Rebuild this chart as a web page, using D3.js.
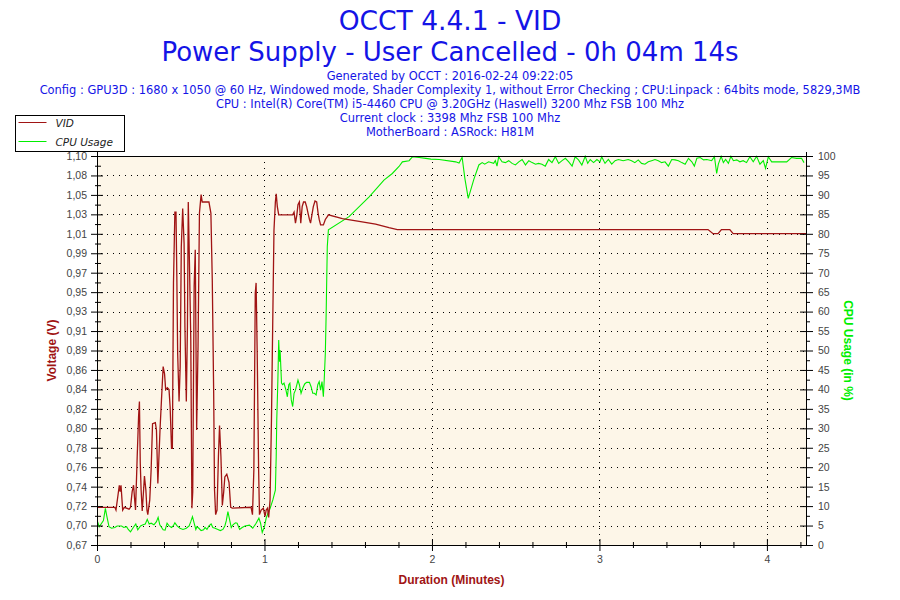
<!DOCTYPE html>
<html>
<head>
<meta charset="utf-8">
<script src="https://cdn.jsdelivr.net/npm/d3@7"></script>
<style>
  body { margin: 0; background: #fff; }
  svg { display: block; }
</style>
</head>
<body>
<svg class="main" width="900" height="600"></svg>
<script>
// title and info lines
const titleLines = ["OCCT 4.4.1 - VID", "Power Supply - User Cancelled - 0h 04m 14s"];
const infoLines = [
  "Generated by OCCT : 2016-02-24 09:22:05",
  "Config : GPU3D : 1680 x 1050 @ 60 Hz, Windowed mode, Shader Complexity 1, without Error Checking ; CPU:Linpack : 64bits mode, 5829,3MB",
  "CPU : Intel(R) Core(TM) i5-4460 CPU @ 3.20GHz (Haswell) 3200 Mhz FSB 100 Mhz",
  "Current clock : 3398 Mhz FSB 100 Mhz",
  "MotherBoard : ASRock: H81M"
];

// axis ticks
const voltTickLabels = ["0,67","0,70","0,72","0,74","0,76","0,78","0,80","0,82","0,84","0,86","0,89",
  "0,91","0,93","0,95","0,97","0,99","1,01","1,03","1,05","1,08","1,10"];
const voltMin = 0.679, voltMax = 1.102;
const cpuTickLabels = d3.range(0, 101, 5);
const minuteTicks = [0, 1, 2, 3, 4];
const durationMin = 254 / 60; // 4m14s

// VID series : time (s), voltage (V)
const vidTime = [0,6.4,6.8,7.6,8.0,8.3,8.6,9.2,9.8,11.5,12.0,12.6,13.1,13.5,13.8,14.4,14.9,15.2,15.5,15.8,
  16.2,16.7,17.0,17.5,17.9,18.2,18.9,19.4,19.9,20.9,21.3,21.8,22.1,22.6,23.1,23.7,24.2,24.6,25.2,25.8,
  26.2,26.7,27.0,27.4,27.9,28.3,28.6,28.9,29.4,29.8,30.2,30.7,31.2,31.5,32.0,32.4,32.7,33.1,33.6,34.0,
  34.3,34.8,35.2,35.7,36.2,36.7,37.3,37.7,40.1,40.8,41.3,41.8,42.1,42.5,43.0,43.5,43.9,44.4,44.9,45.4,
  45.8,46.5,47.3,47.9,48.5,55.2,55.7,56.2,56.7,57.0,57.4,57.9,58.2,58.8,59.6,60.2,60.6,61.1,61.5,62.0,
  62.5,63.0,63.4,63.9,64.2,64.6,65.1,70.1,70.6,71.1,71.6,72.0,72.5,73.0,73.5,74.0,74.6,75.1,75.6,76.1,
  76.5,77.0,77.5,78.1,78.7,79.2,79.6,80.1,81.1,81.8,82.5,82.9,87.9,93.9,99.8,104.6,107.6,218.9,220.7,
  222.5,223.7,226.7,227.9,254];
const vidValue = [0.720,0.720,0.717,0.735,0.744,0.737,0.744,0.717,0.720,0.718,0.720,0.737,0.744,0.728,0.717,
  0.775,0.819,0.835,0.768,0.739,0.716,0.739,0.754,0.739,0.717,0.712,0.728,0.761,0.811,0.812,0.804,0.746,
  0.768,0.806,0.837,0.873,0.865,0.848,0.850,0.848,0.829,0.784,0.784,0.964,1.041,1.041,0.971,0.887,0.835,
  0.873,1.003,1.045,1.007,0.916,0.835,0.916,1.052,0.989,0.902,0.719,0.737,0.960,1.000,0.804,0.895,1.040,
  1.060,1.052,1.052,1.040,0.967,0.844,0.739,0.712,0.717,0.775,0.809,0.775,0.722,0.737,0.753,0.756,0.747,
  0.720,0.719,0.720,0.712,0.761,0.953,0.964,0.887,0.761,0.712,0.717,0.719,0.710,0.717,0.719,0.709,0.728,
  0.815,0.931,1.021,1.052,1.061,1.047,1.038,1.038,1.041,1.029,1.038,1.049,1.052,1.029,1.047,1.052,1.052,
  1.047,1.040,1.033,1.029,1.038,1.047,1.053,1.052,1.040,1.033,1.027,1.027,1.033,1.036,1.038,1.034,1.031,
  1.028,1.024,1.022,1.022,1.0175,1.0175,1.022,1.022,1.0175,1.0175];

// CPU usage series : time (s), usage (%)
const cpuTime = [0.2,0.8,2.3,3.0,3.5,4.3,5.2,6.4,7.2,8.8,9.6,10.6,11.2,12.0,13.0,13.9,14.6,15.6,16.5,17.3,
  18.0,18.7,19.4,20.4,21.3,21.9,22.5,23.7,24.4,25.1,25.8,26.7,27.3,27.9,28.7,29.7,30.8,32.0,33.0,33.6,
  34.2,34.8,35.4,35.8,36.5,37.3,38.2,38.7,39.4,40.1,40.9,41.5,42.3,43.3,44.2,45.1,45.8,46.3,46.9,47.5,
  48.1,48.7,49.6,50.2,51.1,52.0,53.0,54.6,55.8,57.0,58.0,58.6,59.2,60.0,60.6,61.2,62.0,63.0,63.9,64.2,
  64.4,64.8,65.1,65.4,65.6,66.1,66.5,67.0,67.7,68.2,68.7,69.1,69.6,70.1,70.6,71.1,71.6,72.0,72.5,73.1,
  73.7,74.4,75.1,76.1,76.7,77.3,77.9,78.5,79.1,79.6,80.1,80.6,81.1,81.4,81.8,82.1,82.5,82.9,90.3,97.5,
  102.8,105.8,108.2,109.4,111.8,113.0,115.4,117.8,119.6,122.6,128.5,129.7,130.8,131.8,133.0,135.0,136.8,
  138.0,138.9,140.3,142.1,142.7,143.3,143.9,145.1,146.3,147.5,148.7,149.9,151.1,152.3,153.5,154.7,155.9,
  157.1,158.2,159.4,160.6,161.8,163.0,164.2,165.4,166.6,167.8,169.0,170.2,171.3,172.5,173.7,174.9,175.8,
  176.7,177.9,179.1,180.2,180.8,182.0,183.2,184.4,185.6,186.8,188.5,190.3,191.5,192.7,193.9,195.1,196.3,
  197.5,198.7,199.9,201.1,202.3,203.5,204.7,205.9,207.1,208.3,209.5,210.7,211.9,213.1,214.0,214.9,216.1,
  217.3,218.5,220.2,221.2,222.0,222.6,223.6,224.4,225.2,226.2,227.1,228.0,229.2,230.3,231.5,232.7,233.9,
  235.1,236.3,237.5,238.7,239.5,240.5,241.7,244.1,247.1,248.8,250.6,252.4,253.3];
const cpuValue = [6.0,4.7,6.3,9.4,7.5,4.7,4.3,4.5,4.9,4.9,4.5,4.7,4.0,3.4,4.5,5.4,3.9,4.9,5.2,5.4,
  6.6,5.4,5.6,5.2,6.0,7.1,5.2,3.9,3.8,5.6,4.9,4.5,4.9,5.7,4.9,4.3,4.0,4.3,4.9,6.0,
  7.3,5.6,4.0,4.7,4.3,3.7,3.9,4.5,4.0,4.9,5.4,4.5,4.3,4.0,3.7,4.0,4.9,6.2,8.6,6.5,
  4.5,5.2,5.7,5.6,4.0,4.5,4.9,5.1,4.3,5.6,6.9,5.6,3.2,4.7,6.9,8.1,9.4,11.6,14.1,22.7,
  32.1,42.4,52.7,47.1,50.1,41.6,41.2,41.6,39.8,38.1,41.2,41.6,37.3,35.6,39.0,39.8,41.2,42.4,41.2,39.0,
  40.3,41.4,41.8,41.8,40.7,39.0,39.0,38.6,41.2,42.0,39.8,42.0,38.1,42.4,49.3,59.6,76.7,81.0,84.4,89.5,
  93.8,95.5,97.3,98.5,98.8,99.8,99.6,99.4,99.2,99.1,98.5,98.2,99.7,94.2,89.1,94.0,97.7,
  98.3,97.9,98.5,98.1,98.8,97.4,99.8,98.5,98.3,98.8,98.1,97.7,98.5,99.1,97.7,98.8,98.3,
  97.9,98.1,97.9,97.4,99.1,98.3,99.8,98.1,98.8,99.4,98.5,97.4,99.8,99.0,97.7,99.9,98.1,
  99.1,98.3,99.1,98.5,99.8,98.1,99.1,97.9,98.8,99.1,98.8,99.1,98.8,98.3,99.0,98.1,97.9,
  98.5,98.8,99.1,98.8,98.3,98.5,97.4,99.1,99.0,98.8,98.3,97.9,99.4,98.5,97.4,99.4,99.6,
  99.0,99.1,98.8,99.8,95.5,97.9,99.9,98.3,99.1,98.1,99.9,98.8,99.0,98.5,98.8,98.3,99.8,
  98.5,99.9,97.9,98.8,96.8,99.8,98.5,98.5,98.5,99.6,99.4,99.4,98.3];

const vidData = vidTime.map((t, i) => ({t: t, v: vidValue[i]}));
const cpuData = cpuTime.map((t, i) => ({t: t, v: cpuValue[i]}));

const svg = d3.select("svg.main");
const pLeft = 97, pRight = 806, pTop = 156, pBottom = 545;
const blue = "#1414e6", darkRed = "#a01414", green = "#00ee00";

const x = d3.scaleLinear().domain([0, durationMin]).range([pLeft, pRight]);
const yV = d3.scaleLinear().domain([voltMin, voltMax]).range([pBottom, pTop]);
const yC = d3.scaleLinear().domain([0, 100]).range([pBottom, pTop]);

// titles
svg.selectAll("text.title").data(titleLines).enter().append("text")
  .attr("class", "title")
  .attr("x", 450).attr("y", (d, i) => 30 + i * 31)
  .attr("text-anchor", "middle")
  .attr("font-family", "DejaVu Sans, Verdana, sans-serif")
  .attr("font-size", (d, i) => i == 0 ? 26.5 : 26)
  .attr("fill", blue)
  .text(d => d);

svg.selectAll("text.info").data(infoLines).enter().append("text")
  .attr("class", "info")
  .attr("x", 450).attr("y", (d, i) => 80 + i * 14)
  .attr("text-anchor", "middle")
  .attr("font-family", "DejaVu Sans, Verdana, sans-serif")
  .attr("font-size", 11.45)
  .attr("fill", blue)
  .text(d => d);

// plot background
svg.append("rect")
  .attr("x", pLeft).attr("y", pTop)
  .attr("width", pRight - pLeft).attr("height", pBottom - pTop)
  .attr("fill", "#fdf6e8");

// voltage tick positions
const voltStep = (voltMax - voltMin) / (voltTickLabels.length - 1);
const voltTicks = voltTickLabels.map((d, i) => voltMin + i * voltStep);
const voltMinor = voltTicks.slice(1).map(d => d - voltStep / 2);

// dotted grid
const grid = svg.append("g").attr("stroke", "#000").attr("stroke-dasharray", "1,5")
  .attr("stroke-width", 1).attr("shape-rendering", "crispEdges");
grid.selectAll("line.h").data(voltTicks.slice(1, -1)).enter().append("line")
  .attr("x1", pLeft + 4).attr("x2", pRight)
  .attr("y1", d => Math.round(yV(d)) + 0.5).attr("y2", d => Math.round(yV(d)) + 0.5);
grid.selectAll("line.v").data(minuteTicks.slice(1)).enter().append("line")
  .attr("y1", pTop).attr("y2", pBottom)
  .attr("x1", d => Math.round(x(d)) + 0.5).attr("x2", d => Math.round(x(d)) + 0.5);

// series
const lineV = d3.line().x(d => x(d.t / 60)).y(d => yV(d.v));
const lineC = d3.line().x(d => x(d.t / 60)).y(d => yC(d.v));

svg.append("path").attr("d", lineC(cpuData))
  .attr("fill", "none").attr("stroke", green).attr("stroke-width", 1.1);
svg.append("path").attr("d", lineV(vidData))
  .attr("fill", "none").attr("stroke", darkRed).attr("stroke-width", 1.3);

// top border
svg.append("line").attr("x1", pLeft).attr("x2", pRight).attr("y1", pTop + 0.5).attr("y2", pTop + 0.5)
  .attr("stroke", "#000").attr("shape-rendering", "crispEdges");

// axes
const tickFont = g => g.selectAll("text")
  .attr("font-family", "Liberation Sans, Arial, sans-serif")
  .attr("font-size", 10.5).attr("fill", "#444");

function setTicks(g, a, b, horizontal) {
  g.selectAll(".tick line").attr(horizontal ? "y1" : "x1", a).attr(horizontal ? "y2" : "x2", b);
}

// left voltage axis
const gL = svg.append("g").attr("transform", `translate(${pLeft},0)`)
  .call(d3.axisLeft(yV).tickValues(voltTicks).tickFormat((d, i) => voltTickLabels[i]).tickSize(6).tickPadding(4))
  .call(tickFont);
setTicks(gL, -6, 6, false);
gL.select(".domain").attr("d", `M0.5,${pTop - 4}V${pBottom}`);
svg.append("g").attr("transform", `translate(${pLeft},0)`)
  .call(d3.axisLeft(yV).tickValues(voltMinor).tickFormat("").tickSize(3))
  .call(g => g.select(".domain").remove())
  .call(g => setTicks(g, -2, 4, false));

// right CPU axis
const gR = svg.append("g").attr("transform", `translate(${pRight},0)`)
  .call(d3.axisRight(yC).tickValues(cpuTickLabels).tickSize(7).tickPadding(5))
  .call(tickFont);
setTicks(gR, -6, 7, false);
gR.select(".domain").attr("d", `M0.5,${pTop - 4}V${pBottom}`);
svg.append("g").attr("transform", `translate(${pRight},0)`)
  .call(d3.axisRight(yC).tickValues(cpuTickLabels.slice(1).map(d => d - 2.5)).tickFormat("").tickSize(4))
  .call(g => g.select(".domain").remove());

// bottom duration axis
const gB = svg.append("g").attr("transform", `translate(0,${pBottom})`)
  .call(d3.axisBottom(x).tickValues(minuteTicks).tickFormat(d3.format("d")).tickSize(6).tickPadding(5))
  .call(tickFont);
setTicks(gB, -6, 6, true);
gB.select(".domain").attr("d", `M${pLeft},0.5H${pRight + 6}`);
svg.append("g").attr("transform", `translate(0,${pBottom})`)
  .call(d3.axisBottom(x).tickValues(d3.range(0.2, durationMin, 0.2).filter(d => Math.abs(d - Math.round(d)) > 0.01)).tickFormat("").tickSize(3))
  .call(g => g.select(".domain").remove())
  .call(g => setTicks(g, -3, 3, true));
svg.selectAll(".tick line").attr("stroke", "#000");

// axis titles
svg.append("text")
  .attr("transform", `translate(56,${(pTop + pBottom) / 2}) rotate(-90)`)
  .attr("text-anchor", "middle")
  .attr("font-family", "Liberation Sans, Arial, sans-serif")
  .attr("font-weight", "bold").attr("font-size", 12)
  .attr("fill", darkRed)
  .text("Voltage (V)");
svg.append("text")
  .attr("transform", `translate(844,${(pTop + pBottom) / 2}) rotate(90)`)
  .attr("text-anchor", "middle")
  .attr("font-family", "Liberation Sans, Arial, sans-serif")
  .attr("font-weight", "bold").attr("font-size", 12)
  .attr("fill", green)
  .text("CPU Usage (in %)");
svg.append("text")
  .attr("x", (pLeft + pRight) / 2).attr("y", 584)
  .attr("text-anchor", "middle")
  .attr("font-family", "Liberation Sans, Arial, sans-serif")
  .attr("font-weight", "bold").attr("font-size", 12)
  .attr("fill", darkRed)
  .text("Duration (Minutes)");

// legend
const legendItems = [{name: "VID", color: darkRed}, {name: "CPU Usage", color: green}];
const legend = svg.append("g").attr("transform", "translate(15.5,115.5)");
legend.append("rect").attr("width", 109).attr("height", 36)
  .attr("fill", "#fff").attr("stroke", "#000");
const li = legend.selectAll("g").data(legendItems).enter().append("g")
  .attr("transform", (d, i) => `translate(0,${7 + i * 19})`);
li.append("line").attr("x1", 3).attr("x2", 31).attr("y1", 0).attr("y2", 0)
  .attr("stroke", d => d.color);
li.append("text").attr("x", 40).attr("y", 4)
  .attr("font-family", "DejaVu Sans, Verdana, sans-serif")
  .attr("font-style", "italic").attr("font-size", 10.5).attr("fill", "#222")
  .text(d => d.name);
</script>
</body>
</html>
